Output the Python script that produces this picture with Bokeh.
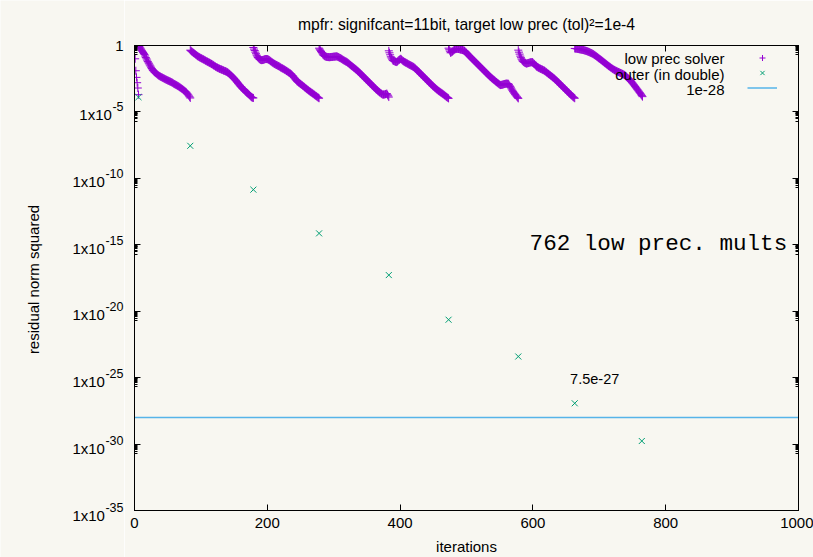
import numpy as np
from bokeh.plotting import figure
from bokeh.layouts import row
from bokeh.models import (Range1d, FixedTicker, LogAxis, LinearAxis, Label,
                          CustomJSTickFormatter, Legend, LegendItem)
from bokeh.core.properties import value
from bokeh.embed import file_html
from bokeh.resources import INLINE

# ---------------- data ----------------
# log10 of the low-precision residual norm squared, one list per restart cycle
lp_c1 = [0.0, -1.0, -1.9, -2.4, -2.8, -3.2, -3.7]
lp_c2 = [0.0, -0.07, -0.13, -0.2, -0.28, -0.37, -0.45, -0.53, -0.6, -0.68,
         -0.79, -0.9, -1.0, -1.1, -1.2, -1.3, -1.38, -1.47, -1.55, -1.64,
         -1.73, -1.82, -1.88, -1.94, -2.0, -2.04, -2.08, -2.12, -2.16, -2.21,
         -2.25, -2.28, -2.31, -2.34, -2.37, -2.39, -2.42, -2.45, -2.47, -2.5,
         -2.53, -2.55, -2.58, -2.6, -2.63, -2.65, -2.67, -2.7, -2.72, -2.75,
         -2.77, -2.8, -2.83, -2.87, -2.9, -2.93, -2.95, -2.98, -3.01, -3.04,
         -3.07, -3.1, -3.14, -3.17, -3.21, -3.24, -3.28, -3.32, -3.36, -3.4,
         -3.44, -3.48, -3.52, -3.59, -3.65, -3.72, -3.8, -3.87, -3.95]
lp_c3 = [-0.35, -0.39, -0.44, -0.48, -0.52, -0.56, -0.6, -0.64, -0.68, -0.72,
         -0.76, -0.8, -0.83, -0.86, -0.89, -0.92, -0.95, -0.97, -1.0, -1.03,
         -1.05, -1.08, -1.11, -1.14, -1.17, -1.2, -1.22, -1.25, -1.28, -1.3,
         -1.33, -1.36, -1.39, -1.42, -1.45, -1.49, -1.52, -1.55, -1.59, -1.62,
         -1.65, -1.67, -1.7, -1.72, -1.75, -1.77, -1.79, -1.81, -1.83, -1.85,
         -1.88, -1.9, -1.92, -1.94, -1.96, -1.99, -2.02, -2.05, -2.09, -2.14,
         -2.18, -2.23, -2.28, -2.33, -2.38, -2.43, -2.48, -2.54, -2.59, -2.65,
         -2.72, -2.78, -2.85, -2.91, -2.97, -3.03, -3.09, -3.14, -3.2, -3.25,
         -3.3, -3.35, -3.4, -3.45, -3.5, -3.54, -3.58, -3.62, -3.67, -3.73,
         -3.78, -3.83, -3.88, -3.92, -3.93, -3.95]
lp_c4 = [-0.15, -0.27, -0.38, -0.5, -0.62, -0.73, -0.85, -0.91, -0.96, -1.02,
         -1.05, -1.08, -1.1, -1.1, -1.09, -1.08, -1.06, -1.04, -1.02, -1.02,
         -1.02, -1.02, -1.05, -1.07, -1.1, -1.14, -1.18, -1.22, -1.26, -1.29,
         -1.33, -1.36, -1.39, -1.42, -1.45, -1.47, -1.5, -1.53, -1.55, -1.58,
         -1.61, -1.65, -1.68, -1.71, -1.73, -1.76, -1.79, -1.82, -1.85, -1.88,
         -1.92, -1.95, -1.98, -2.02, -2.05, -2.08, -2.12, -2.15, -2.21, -2.26,
         -2.32, -2.39, -2.45, -2.52, -2.58, -2.64, -2.7, -2.74, -2.78, -2.82,
         -2.86, -2.89, -2.93, -2.97, -3.01, -3.05, -3.09, -3.14, -3.18, -3.22,
         -3.26, -3.3, -3.34, -3.38, -3.42, -3.46, -3.49, -3.53, -3.56, -3.6,
         -3.63, -3.67, -3.71, -3.75, -3.79, -3.82, -3.86, -3.9, -3.93, -3.97]
lp_c5 = [-0.2, -0.28, -0.37, -0.45, -0.53, -0.62, -0.7, -0.74, -0.78, -0.82,
         -0.83, -0.85, -0.86, -0.87, -0.87, -0.88, -0.88, -0.87, -0.87, -0.86,
         -0.86, -0.85, -0.84, -0.84, -0.83, -0.83, -0.82, -0.82, -0.85, -0.87,
         -0.9, -0.93, -0.95, -0.98, -1.01, -1.05, -1.08, -1.11, -1.14, -1.17,
         -1.2, -1.22, -1.25, -1.29, -1.33, -1.37, -1.41, -1.46, -1.5, -1.54,
         -1.58, -1.62, -1.66, -1.7, -1.74, -1.78, -1.82, -1.86, -1.91, -1.95,
         -2.0, -2.05, -2.1, -2.15, -2.2, -2.25, -2.3, -2.35, -2.4, -2.45,
         -2.5, -2.55, -2.6, -2.65, -2.7, -2.75, -2.8, -2.85, -2.9, -2.95,
         -3.0, -3.05, -3.1, -3.15, -3.2, -3.25, -3.3, -3.35, -3.39, -3.44,
         -3.48, -3.52, -3.56, -3.6, -3.63, -3.67, -3.7, -3.69, -3.69, -3.68,
         -3.66, -3.64, -3.62, -3.71, -3.79, -3.88]
lp_c6 = [-0.4, -0.55, -0.7, -0.85, -0.94, -1.03, -1.12, -1.15, -1.17, -1.2,
         -1.22, -1.23, -1.25, -1.2, -1.15, -1.1, -1.07, -1.03, -1.0, -1.05,
         -1.1, -1.15, -1.18, -1.22, -1.25, -1.28, -1.3, -1.33, -1.36, -1.39,
         -1.42, -1.45, -1.47, -1.5, -1.53, -1.55, -1.58, -1.61, -1.65, -1.68,
         -1.73, -1.78, -1.83, -1.88, -1.93, -1.98, -2.03, -2.08, -2.13, -2.18,
         -2.23, -2.28, -2.33, -2.38, -2.43, -2.48, -2.53, -2.58, -2.63, -2.68,
         -2.73, -2.78, -2.83, -2.88, -2.93, -2.98, -3.03, -3.08, -3.12, -3.17,
         -3.21, -3.26, -3.3, -3.34, -3.38, -3.42, -3.46, -3.49, -3.53, -3.56,
         -3.6, -3.63, -3.67, -3.71, -3.75, -3.79, -3.83, -3.87, -3.91, -3.94,
         -3.98]
lp_c7 = [-0.2, -0.32, -0.43, -0.55, -0.52, -0.48, -0.45, -0.4, -0.35, -0.3,
         -0.28, -0.27, -0.25, -0.25, -0.26, -0.26, -0.27, -0.29, -0.3, -0.31,
         -0.33, -0.34, -0.36, -0.38, -0.4, -0.45, -0.5, -0.55, -0.61, -0.66,
         -0.72, -0.77, -0.82, -0.87, -0.92, -0.97, -1.02, -1.07, -1.12, -1.17,
         -1.22, -1.27, -1.32, -1.37, -1.42, -1.47, -1.52, -1.57, -1.62, -1.67,
         -1.72, -1.77, -1.82, -1.87, -1.92, -1.97, -2.02, -2.07, -2.12, -2.17,
         -2.22, -2.27, -2.32, -2.37, -2.41, -2.46, -2.5, -2.54, -2.58, -2.62,
         -2.66, -2.71, -2.75, -2.79, -2.83, -2.87, -2.91, -2.94, -2.98, -2.97,
         -2.96, -2.95, -2.93, -2.92, -2.9, -2.89, -2.88, -2.87, -2.87, -2.88,
         -2.88, -2.95, -3.03, -3.1, -3.19, -3.28, -3.37, -3.45, -3.52, -3.6,
         -3.67, -3.73, -3.8, -3.86, -3.92, -3.98]
lp_c8 = [-0.35, -0.5, -0.65, -0.8, -0.92, -1.03, -1.15, -1.19, -1.24, -1.28,
         -1.31, -1.33, -1.36, -1.35, -1.33, -1.32, -1.3, -1.29, -1.27, -1.26,
         -1.26, -1.25, -1.3, -1.35, -1.4, -1.46, -1.52, -1.58, -1.61, -1.64,
         -1.67, -1.7, -1.72, -1.75, -1.77, -1.8, -1.82, -1.85, -1.87, -1.9,
         -1.94, -1.98, -2.02, -2.06, -2.1, -2.14, -2.18, -2.22, -2.26, -2.3,
         -2.34, -2.38, -2.42, -2.46, -2.5, -2.55, -2.6, -2.65, -2.7, -2.75,
         -2.8, -2.85, -2.9, -2.95, -3.0, -3.05, -3.1, -3.15, -3.2, -3.25,
         -3.3, -3.35, -3.4, -3.45, -3.5, -3.55, -3.6, -3.65, -3.7, -3.75,
         -3.8, -3.85, -3.89, -3.93, -3.97]
lp_c9 = [-0.22, -0.23, -0.23, -0.24, -0.25, -0.26, -0.27, -0.28, -0.29, -0.3,
         -0.31, -0.32, -0.33, -0.34, -0.36, -0.37, -0.39, -0.4, -0.42, -0.44,
         -0.46, -0.48, -0.5, -0.53, -0.55, -0.57, -0.6, -0.62, -0.65, -0.69,
         -0.72, -0.76, -0.79, -0.83, -0.87, -0.91, -0.95, -0.99, -1.02, -1.06,
         -1.1, -1.14, -1.18, -1.22, -1.26, -1.3, -1.34, -1.38, -1.42, -1.46,
         -1.5, -1.54, -1.58, -1.61, -1.65, -1.69, -1.72, -1.76, -1.79, -1.82,
         -1.85, -1.88, -1.9, -1.93, -1.95, -1.98, -2.0, -2.02, -2.05, -2.07,
         -2.09, -2.12, -2.14, -2.17, -2.19, -2.22, -2.26, -2.31, -2.35, -2.4,
         -2.45, -2.5, -2.55, -2.59, -2.64, -2.7, -2.76, -2.82, -2.89, -2.95,
         -3.02, -3.09, -3.15, -3.22, -3.29, -3.35, -3.42, -3.49, -3.55, -3.62,
         -3.7, -3.77, -3.85]
lp_cycles = [lp_c1, lp_c2, lp_c3, lp_c4, lp_c5, lp_c6, lp_c7, lp_c8, lp_c9]
# iteration count at which each cycle starts/ends
cycle_bounds = [0, 6, 84, 179, 278, 383, 473, 578, 663, 765]

# outer (double precision) residuals
outer_iter = [6, 84, 179, 278, 383, 473, 578, 663, 764]
outer_log10 = [-3.89, -7.55, -10.85, -14.14, -17.28, -20.64, -23.41, -26.93, -29.77]

threshold = 1e-28
x_limits = [0, 1000]
y_exp_limits = [-35, 0]
x_ticks = [0, 200, 400, 600, 800, 1000]
y_tick_exps = [-35, -30, -25, -20, -15, -10, -5, 0]
legend_labels = ["low prec solver", "outer (in double)", "1e-28"]

# ---------------- build series ----------------
lp_x, lp_y = [], []
for vals, a, b in zip(lp_cycles, cycle_bounds[:-1], cycle_bounds[1:]):
    lp_x.extend(np.linspace(a, b, len(vals)).tolist())
    lp_y.extend((10.0 ** np.array(vals)).tolist())
outer_y = (10.0 ** np.array(outer_log10)).tolist()

BG = "#f8f7f1"
FONT = "Liberation Sans"
FS = "15px"
SUP_FS = 12.5
W, H = 813, 557
LEFT_W = 124          # width of the panel that carries the y tick labels
TOP, BOTTOM = 45, 44  # frame borders

# ---------------- main plot ----------------
p = figure(width=W - LEFT_W, height=H, output_backend="svg",
           toolbar_location=None,
           x_range=Range1d(*x_limits),
           y_range=Range1d(10.0 ** y_exp_limits[0], 10.0 ** y_exp_limits[1]),
           y_axis_type="log",
           min_border_left=10, min_border_right=15,
           min_border_top=TOP, min_border_bottom=BOTTOM,
           background_fill_color=BG, border_fill_color=BG)
p.xgrid.visible = False
p.ygrid.visible = False
p.outline_line_color = "black"
p.outline_line_width = 1

p.title.text = "mpfr: signifcant=11bit, target low prec (tol)\u00b2=1e-4"
p.title.align = "center"
p.title.text_font = FONT
p.title.text_font_size = "15.7px"
p.title.text_font_style = "normal"
p.title.text_color = "black"
p.title.standoff = 26

r_thr = p.line(x_limits, [threshold, threshold], line_color="#56b4e9",
               line_width=1.5)
r_lp = p.scatter(lp_x, lp_y, marker="cross", size=8, line_width=1,
                 color="#9400d3")
r_out = p.scatter(outer_iter, outer_y, marker="x", size=8.5, line_width=1,
                  color="#009e73")

y_ticker = FixedTicker(
    ticks=[10.0 ** e for e in y_tick_exps],
    minor_ticks=[k * 10.0 ** (e - 1) for e in y_tick_exps if e > -35
                 for k in range(2, 10)])
x_ticker = FixedTicker(ticks=x_ticks, minor_ticks=[])
empty = "return '';"

def style_axis(ax):
    ax.axis_line_color = "black"
    ax.major_tick_line_color = "black"
    ax.minor_tick_line_color = "black"
    ax.major_tick_in = 6
    ax.major_tick_out = 0
    ax.minor_tick_in = 3
    ax.minor_tick_out = 0
    ax.major_label_text_font = FONT
    ax.major_label_text_font_size = FS
    ax.major_label_text_color = "black"
    ax.axis_label_text_font = FONT
    ax.axis_label_text_font_size = FS
    ax.axis_label_text_font_style = "normal"
    ax.axis_label_text_color = "black"

xa = p.xaxis[0]
xa.ticker = x_ticker
style_axis(xa)
xa.major_label_standoff = 7
xa.axis_label = "iterations"
xa.axis_label_standoff = 7

ya = p.yaxis[0]
ya.ticker = y_ticker
ya.formatter = CustomJSTickFormatter(code=empty)
style_axis(ya)
ya.major_label_standoff = 0

ra = LogAxis(ticker=y_ticker, formatter=CustomJSTickFormatter(code=empty))
style_axis(ra)
ra.major_label_standoff = 0
p.add_layout(ra, "right")

ta = LinearAxis(ticker=x_ticker, formatter=CustomJSTickFormatter(code=empty))
style_axis(ta)
ta.major_label_standoff = 0
p.add_layout(ta, "above")

# legend in gnuplot style: samples on the right, texts right-aligned to the left
legend = Legend(items=[LegendItem(label=" ", renderers=[r])
                       for r in (r_lp, r_out, r_thr)],
                location="top_right", border_line_alpha=0,
                background_fill_alpha=0, label_text_font_size="8px",
                glyph_width=30, glyph_height=15, label_height=15,
                label_width=0, spacing=0, padding=0, margin=5,
                label_standoff=16)
p.add_layout(legend)
for i, txt in enumerate(legend_labels):
    p.add_layout(Label(x=x_limits[1], y=10.0 ** y_exp_limits[1], text=txt,
                       x_offset=-74, y_offset=-13 - 15.5 * i,
                       text_align="right", text_baseline="middle",
                       text_font=FONT, text_font_size="15px",
                       text_color="black"))

p.add_layout(Label(x=595, y=1.1e-15, text="762 low prec. mults",
                   text_font="Liberation Mono", text_font_size="22.6px",
                   text_baseline="middle", text_color="black"))
p.add_layout(Label(x=656, y=7.5e-26, text="7.5e-27",
                   text_font=FONT, text_font_size="14.5px",
                   text_baseline="middle", text_color="black"))

# ---------------- left panel: y tick labels 1x10^e and y axis title ----------
lp_panel = figure(width=LEFT_W, height=H, output_backend="svg",
                  toolbar_location=None, x_range=Range1d(0, LEFT_W),
                  y_axis_type="log", x_axis_location=None,
                  y_axis_location=None, min_border=0,
                  background_fill_color=BG, border_fill_color=BG)
dec_per_px = (y_exp_limits[1] - y_exp_limits[0]) / (H - TOP - BOTTOM)
frame_unaligned = False
try:
    lp_panel.frame_align = False
    frame_unaligned = True
except Exception:
    pass
if frame_unaligned:
    # panel frame covers the whole panel height
    lp_panel.y_range = Range1d(10.0 ** (y_exp_limits[0] - BOTTOM * dec_per_px),
                               10.0 ** (y_exp_limits[1] + TOP * dec_per_px))
else:
    lp_panel.y_range = p.y_range
lp_panel.outline_line_color = None
lp_panel.xgrid.visible = False
lp_panel.ygrid.visible = False

char_w = {"-": 0.333, "x": 0.5}
right_edge = LEFT_W - 1
base_x, base_y, base_t = [], [], []
sup_x, sup_y, sup_t = [], [], []
for e in y_tick_exps:
    if e == 0:
        base_x.append(right_edge); base_y.append(10.0 ** e); base_t.append("1")
        continue
    sup = str(e)
    sup_w = sum(char_w.get(c, 0.556) for c in sup) * SUP_FS
    sup_x.append(right_edge); sup_y.append(10.0 ** (e + 6 * dec_per_px))
    sup_t.append(sup)
    base_x.append(right_edge - sup_w - 0.5)
    base_y.append(10.0 ** (e - 2 * dec_per_px)); base_t.append("1x10")

lp_panel.text(base_x, base_y, text=base_t, text_align="right",
              text_baseline="middle", text_font=value(FONT),
              text_font_size=value(FS), text_color="black")
lp_panel.text(sup_x, sup_y, text=sup_t, text_align="right",
              text_baseline="middle", text_font=value(FONT),
              text_font_size=value(f"{SUP_FS}px"), text_color="black")
lp_panel.text([33], [10.0 ** (sum(y_exp_limits) / 2)],
              text=["residual norm squared"], angle=np.pi / 2,
              text_align="center", text_baseline="middle",
              text_font=value(FONT), text_font_size=value(FS),
              text_color="black")

layout = row(lp_panel, p, spacing=0)
open("out.html", "w").write(file_html(layout, INLINE))
